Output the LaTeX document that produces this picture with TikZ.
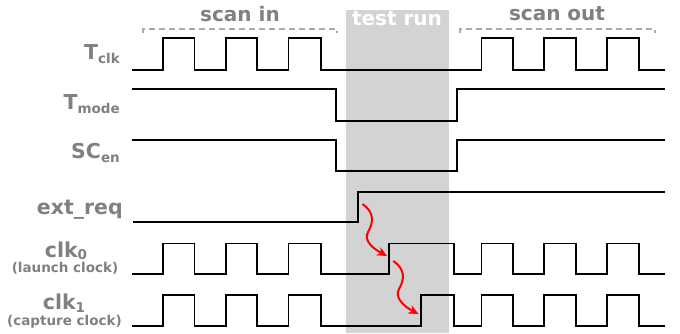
\documentclass[tikz,border=0pt]{standalone}
\usepackage{fontspec}
\setmainfont{DejaVu Sans}
\usetikzlibrary{arrows.meta}
\definecolor{labgray}{HTML}{808080}
\definecolor{boxgray}{HTML}{D3D3D3}
\definecolor{dashgray}{HTML}{AAAAAA}
\newcommand{\mysub}[1]{\raisebox{-4pt}{\fontsize{13.5}{13.5}\selectfont #1}}
\newcommand{\myclksub}[1]{\raisebox{-2.5pt}{\fontsize{13.5}{13.5}\selectfont #1}}
\tikzset{
  sig/.style={line width=1.8pt, line join=miter},
  lab/.style={text=labgray, font=\bfseries\fontsize{20.5}{20.5}\selectfont, inner sep=0pt, anchor=base east},
  small/.style={text=labgray, font=\bfseries\fontsize{13.5}{13.5}\selectfont, inner sep=0pt, anchor=base},
  head/.style={text=labgray, font=\bfseries\fontsize{20}{20}\selectfont, inner sep=0pt, anchor=base},
  brack/.style={dashgray, line width=2pt, dash pattern=on 6pt off 4pt},
  causal/.style={red, line width=2pt, -{Stealth[length=10pt,width=9pt]}}
}
\begin{document}
\begin{tikzpicture}[x=1pt,y=-1pt]
\useasboundingbox (0,0) rectangle (680,333);
% test run region
\fill[boxgray] (346,10) rectangle (449,333);
\node[head, text=white] (trun) at (397,25.7) {test run};
% headers
\node[head] (sin) at (240,21.7) {scan in};
\node[head] (sout) at (557,20.7) {scan out};
\draw[brack] (143,32.5) -- (143,28.5) -- (337,28.5) -- (337,32.5);
\draw[brack] (460,32.5) -- (460,28.5) -- (655,28.5) -- (655,32.5);
% labels
\node[lab] (ltclk) at (120,59.3) {T\mysub{clk}};
\node[lab] (ltmode) at (120,109) {T\mysub{mode}};
\node[lab] (lscen) at (120,158.5) {SC\mysub{en}};
\node[lab] (lext) at (123,214.3) {ext\_req};
\node[lab, anchor=base] (lclk0) at (66,257) {clk\myclksub{0}};
\node[small] (llaunch) at (65,272.5) {(launch clock)};
\node[lab, anchor=base] (lclk1) at (64,309.5) {clk\myclksub{1}};
\node[small] (lcapture) at (64.5,325.5) {(capture clock)};
% Tclk
\draw[sig] (132,70) -| (163,38) -| (194.5,70) -| (226,38) -| (257,70) -| (288.5,38) -| (321,70)
  -| (481.5,38) -| (512.7,70) -| (544,38) -| (576,70) -| (607.3,38) -| (638.7,70) -- (665,70);
% Tmode
\draw[sig] (132,89) -| (336,121) -| (457,89) -- (665,89);
% SCen
\draw[sig] (132,140) -| (336,171) -| (457,140) -- (665,140);
% ext_req
\draw[sig] (133,222.3) -| (358.3,192) -- (665,192);
% clk0
\draw[sig] (132,274) -| (163,243.5) -| (194.5,274) -| (226,243.5) -| (257,274) -| (288.5,243.5) -| (321,274)
  -| (389.3,243.5) -| (454.3,274) -| (481.5,243.5) -| (512.7,274) -| (544,243.5) -| (576,274) -| (607.3,243.5) -| (638.7,274) -- (665,274);
% clk1
\draw[sig] (132,325.7) -| (163,295) -| (194.5,325.7) -| (226,295) -| (257,325.7) -| (288.5,295) -| (321,325.7)
  -| (421,295) -| (454.3,325.7) -| (481.5,295) -| (512.7,325.7) -| (544,295) -| (576,325.7) -| (607.3,295) -| (638.7,325.7) -- (665,325.7);
% causal arrows
\coordinate (a1s) at (362.5,204);
\coordinate (a1e) at (387,256);
\coordinate (a2s) at (393.3,261);
\coordinate (a2e) at (418.5,314);
\draw[causal] (a1s) .. controls (374,212) and (374,222) .. (368,232) .. controls (363,241) and (374,249) .. (a1e);
\draw[causal] (a2s) .. controls (405,269) and (405,279) .. (399,289) .. controls (394,298) and (405,307) .. (a2e);
\end{tikzpicture}
\end{document}
